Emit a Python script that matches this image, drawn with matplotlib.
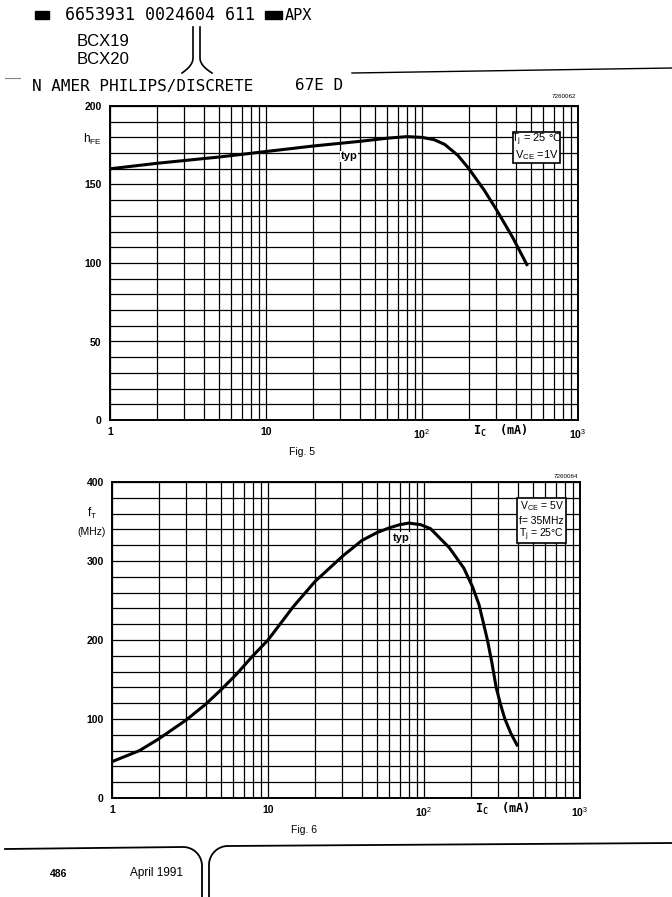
import matplotlib.pyplot as plt
import numpy as np
from matplotlib.ticker import FixedLocator, NullFormatter
from matplotlib.patches import Rectangle

plt.rcParams['font.family'] = ['Liberation Sans', 'DejaVu Sans']
plt.rcParams['mathtext.fontset'] = 'custom'
plt.rcParams['mathtext.rm'] = 'Liberation Sans'
plt.rcParams['mathtext.it'] = 'Liberation Sans'
plt.rcParams['mathtext.bf'] = 'Liberation Sans:bold'

# === FIG. 5 : hFE versus Ic (typ) ===
ic_hfe = [1, 2, 5, 10, 20, 40, 60, 80, 100, 120, 140, 170, 200, 250, 300, 380, 470]
hfe = [160, 163.5, 167.5, 171, 174.5, 177.5, 179.5, 180.5, 180, 178.5, 175.5, 168.5,
       160, 146.5, 134, 116.5, 99]

# === FIG. 6 : fT versus Ic (typ) ===
ic_ft = [1, 1.5, 2, 3, 4, 5, 6.3, 8, 10, 14.5, 20, 30, 40, 50, 60, 70, 80, 95, 110,
         145, 180, 205, 225, 240, 255, 272, 290, 310, 330, 360, 395]
ft = [46, 60, 75, 99, 119, 137, 157, 180, 200, 242, 274, 306, 326, 336, 342, 346,
      348, 346, 341, 317, 291, 267, 245, 222, 200, 172, 140, 118, 100, 82, 67]

x_ticks = [1, 10, 100, 1000]
x_ticklabels = ['1', '10', '10$^2$', '10$^3$']

W, H = 672, 897
fig = plt.figure(figsize=(W / 100, H / 100), dpi=100)

# overlay in page pixels for header / footer / outside labels
ax0 = fig.add_axes([0, 0, 1, 1], zorder=-1)
ax0.set_xlim(0, W)
ax0.set_ylim(H, 0)
ax0.axis('off')


def make_chart(rect, ymax, ystep, ylab_step):
    ax = fig.add_axes(rect)
    ax.set_xscale('log')
    ax.set_xlim(1, 1000)
    ax.set_ylim(0, ymax)
    minors = [m * 10 ** d for d in range(3) for m in range(2, 10)]
    ax.xaxis.set_major_locator(FixedLocator(x_ticks))
    ax.xaxis.set_minor_locator(FixedLocator(minors))
    ax.xaxis.set_minor_formatter(NullFormatter())
    ax.set_xticklabels(x_ticklabels)
    ax.yaxis.set_major_locator(FixedLocator(np.arange(0, ymax + 1, ylab_step)))
    ax.yaxis.set_minor_locator(FixedLocator(np.arange(0, ymax + 1, ystep)))
    ax.grid(True, which='both', color='black', linewidth=0.9)
    ax.set_axisbelow(True)
    ax.tick_params(which='both', length=0)
    ax.tick_params(axis='y', pad=6, labelsize=7.5)
    ax.tick_params(axis='x', pad=5, labelsize=7.5)
    for lab in ax.get_xticklabels() + ax.get_yticklabels():
        lab.set_fontweight('bold')
    for s in ax.spines.values():
        s.set_linewidth(1.4)
    ax.text(0.835, -0.035, r'I$_\mathregular{C}$  (mA)', transform=ax.transAxes,
            ha='center', va='center', fontsize=8.5, fontweight='bold',
            family='DejaVu Sans Mono')
    return ax


def box(ax, x0, y0, x1, y1, lines, ys, fs):
    ax.add_patch(Rectangle((x0, y0), x1 - x0, y1 - y0, transform=ax.transAxes,
                           facecolor='white', edgecolor='black', linewidth=1.2, zorder=4))
    for t, yy in zip(lines, ys):
        ax.text((x0 + x1) / 2, yy, t, transform=ax.transAxes, ha='center', va='center',
                fontsize=fs, zorder=5)


# === FIG. 5 ===
ax1 = make_chart([110 / W, 1 - 420 / H, 468 / W, 314 / H], 200, 10, 50)
ax1.plot(ic_hfe, hfe, color='black', linewidth=2.2, zorder=3)
ax1.text(34, 168, 'typ', ha='center', va='center', fontsize=8, fontweight='bold',
         bbox=dict(facecolor='white', edgecolor='none', pad=0.5), zorder=4)
box(ax1, 0.861, 0.818, 0.962, 0.917,
    ['T$_\\mathregular{j}$ = 25 °C', 'V$_\\mathregular{CE}$ =1V'], [0.892, 0.845], 8)

# === FIG. 6 ===
ax2 = make_chart([112 / W, 1 - 798 / H, 468 / W, 316 / H], 400, 20, 100)
ax2.plot(ic_ft, ft, color='black', linewidth=2.2, zorder=3)
ax2.text(71, 329, 'typ', ha='center', va='center', fontsize=8, fontweight='bold',
         bbox=dict(facecolor='white', edgecolor='none', pad=0.5), zorder=4)
box(ax2, 0.866, 0.807, 0.970, 0.949,
    ['V$_\\mathregular{CE}$ = 5V', 'f= 35MHz', 'T$_\\mathregular{j}$ = 25°C'],
    [0.924, 0.878, 0.832], 7.5)

# === OUTSIDE LABELS ===
ax0.text(92, 139, r'h$_\mathregular{FE}$', ha='center', va='center', fontsize=8.5)
ax0.text(92, 513, r'f$_\mathregular{T}$', ha='center', va='center', fontsize=8.5)
ax0.text(92, 532, '(MHz)', ha='center', va='center', fontsize=7.5)
ax0.text(302, 452, 'Fig. 5', ha='center', va='center', fontsize=7.5)
ax0.text(304, 830, 'Fig. 6', ha='center', va='center', fontsize=7.5)
ax0.text(576, 97, '7260062', ha='right', va='center', fontsize=4.5)
ax0.text(578, 476, '7260064', ha='right', va='center', fontsize=4.5)

# === PAGE HEADER ===
ax0.add_patch(Rectangle((35, 11), 14, 8, color='black'))
ax0.add_patch(Rectangle((265, 11), 17, 8, color='black'))
ax0.text(65, 15, '6653931 0024604 611', ha='left', va='center', fontsize=12,
         family='DejaVu Sans Mono')
ax0.text(285, 15, 'APX', ha='left', va='center', fontsize=11, family='DejaVu Sans Mono')
ax0.text(77, 41, 'BCX19', ha='left', va='center', fontsize=12)
ax0.text(77, 59, 'BCX20', ha='left', va='center', fontsize=12)
ax0.text(32, 86, 'N AMER PHILIPS/DISCRETE', ha='left', va='center', fontsize=11.5,
         family='DejaVu Sans Mono')
ax0.text(295, 86, '67E D', ha='left', va='center', fontsize=11.5, family='DejaVu Sans Mono')
ax0.plot([5, 20], [78, 78], color='grey', linewidth=0.8)
ax0.plot([352, 672], [73, 68], color='black', linewidth=1.0)

t = np.linspace(0, 1, 20)
ax0.plot(np.r_[193, 193 - 11 * t ** 2], np.r_[27, 58 + 15 * t], color='black', lw=1.2)
ax0.plot(np.r_[200, 200 + 12 * t ** 2], np.r_[27, 58 + 15 * t], color='black', lw=1.2)

# === PAGE FOOTER ===
th = np.linspace(0, np.pi / 2, 30)
ax0.plot(np.r_[5, 183 + 19 * np.sin(th), 202], np.r_[849, 866 - 19 * np.cos(th), 897],
         color='black', lw=1.3)
ax0.plot(np.r_[209, 228 - 19 * np.sin(th)[::-1], 672],
         np.r_[897, 865 - 19 * np.cos(th)[::-1], 843], color='black', lw=1.3)
ax0.text(50, 874, '486', ha='left', va='center', fontsize=7.5, fontweight='bold')
ax0.text(130, 873, 'April 1991', ha='left', va='center', fontsize=8.5)

fig.savefig('out.png', dpi=100)
